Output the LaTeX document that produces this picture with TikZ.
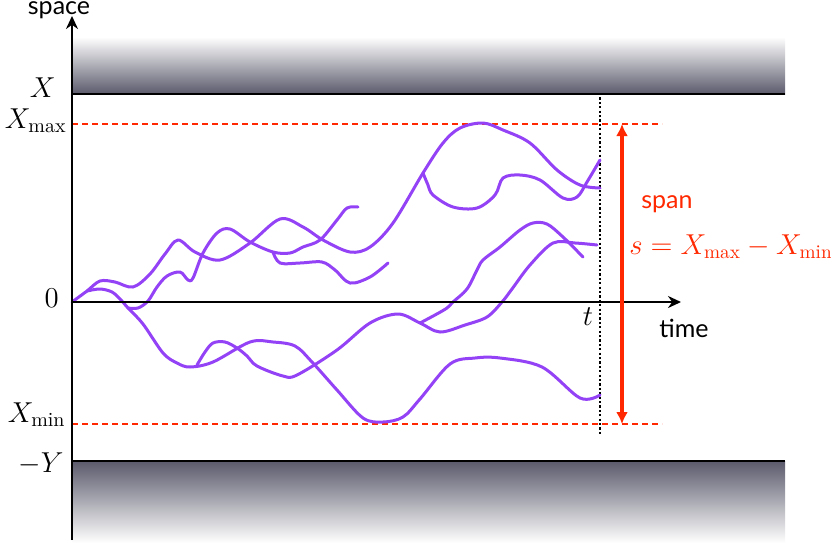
\documentclass[tikz,border=0pt]{standalone}
\usepackage{fontspec}
\newfontfamily\labelfont{Lato}
\usetikzlibrary{arrows.meta}
\definecolor{pathpurple}{RGB}{148,66,245}
\definecolor{spanred}{RGB}{255,40,0}
\definecolor{walldark}{RGB}{90,90,108}
\begin{document}
\begin{tikzpicture}[x=0.5pt,y=-0.5pt,
  walk/.style={pathpurple, line width=1.5pt, line cap=round, line join=round},
  axisline/.style={line width=1.4pt, -{Stealth[length=6.5pt,width=6pt]}},
  wallline/.style={line width=1.4pt},
  limitline/.style={spanred, line width=1.3pt, dash pattern=on 3pt off 2pt},
  timeline/.style={line width=0.9pt, dash pattern=on 1.1pt off 1.1pt},
  spanarrow/.style={spanred, line width=1.6pt, {Latex[length=6pt,width=6pt]}-{Latex[length=6pt,width=6pt]}},
  mathlabel/.style={inner sep=0pt, font=\Large},
  sanslabel/.style={inner sep=0pt, font=\fontsize{12.5}{15}\labelfont},
]
\useasboundingbox (0,0) rectangle (831,543);

% walls
\shade[top color=white, bottom color=walldark] (72,37) rectangle (785,94);
\shade[top color=walldark, bottom color=white] (72,461) rectangle (785,543);
\coordinate (wallTopL) at (72,94);
\coordinate (wallTopR) at (785,94);
\coordinate (wallBotL) at (72,461);
\coordinate (wallBotR) at (785,461);
\draw[wallline] (wallTopL) -- (wallTopR);
\draw[wallline] (wallBotL) -- (wallBotR);

% limits
\coordinate (maxL) at (72,124);
\coordinate (maxR) at (662,124);
\coordinate (minL) at (72,424);
\coordinate (minR) at (662,424);
\draw[limitline] (maxL) -- (maxR);
\draw[limitline] (minL) -- (minR);

% time t
\coordinate (tTop) at (600,93);
\coordinate (tBot) at (600,435);
\draw[timeline] (tTop) -- (tBot);

% walks
\draw[walk] plot[smooth, tension=0.55] coordinates {(72,302) (87,291) (100,281) (115,282) (133,287) (150,274) (165,254) (178,240) (195,252) (220,260) (250,243) (280,219) (303,227) (323,240) (350,252) (370,247) (393,223) (423,173) (443,143) (460,128) (483,123) (503,130) (530,143) (557,170) (580,185) (600,188)};
\draw[walk] plot[smooth, tension=0.55] coordinates {(87,291) (100,289) (112,292) (121,300) (128,308) (143,324) (163,353) (177,363) (190,367) (213,362) (250,342) (273,342) (295,346) (312,362) (337,390) (363,418) (383,422) (403,417) (420,399) (450,364) (475,358) (500,358) (542,367) (580,398) (600,395)};
\draw[walk] plot[smooth, tension=0.55] coordinates {(128,308) (138,308) (148,301) (157,287) (167,276) (180,272) (188,280) (193,278) (203,253) (217,233) (230,229) (250,242) (273,252) (290,253) (303,247) (320,240) (337,220) (347,208) (358,207)};
\draw[walk] plot[smooth, tension=0.55] coordinates {(273,252) (280,263) (300,263) (322,262) (335,270) (350,283) (370,277) (388,263)};
\draw[walk] plot[smooth, tension=0.55] coordinates {(197,365) (205,352) (213,343) (225,342) (237,348) (247,356) (257,366) (283,376) (297,375) (337,350) (370,323) (398,314) (420,323) (440,332) (465,325) (487,317) (502,302) (512,289) (530,265) (553,243) (575,243) (597,245)};
\draw[walk] plot[smooth, tension=0.55] coordinates {(420,323) (435,315) (447,308) (453,302) (467,289) (477,270) (483,260) (500,247) (520,230) (533,223) (547,224) (563,237) (583,257)};
\draw[walk] plot[smooth, tension=0.55] coordinates {(423,173) (428,185) (433,195) (453,207) (477,208) (495,195) (503,178) (520,175) (540,180) (563,198) (577,197) (587,182) (600,160)};

% axes
\coordinate (origin) at (72,302);
\coordinate (timeEnd) at (681,302);
\coordinate (spaceBot) at (72,540);
\coordinate (spaceEnd) at (72,16);
\draw[axisline] (origin) -- (timeEnd);
\draw[axisline] (spaceBot) -- (spaceEnd);

% span arrow
\coordinate (spanTop) at (622,124);
\coordinate (spanBot) at (622,424);
\draw[spanarrow] (spanBot) -- (spanTop);

% labels
\node[sanslabel, anchor=base] (spaceLbl) at (59,14) {space};
\node[sanslabel, anchor=base] (timeLbl) at (684,337) {time};
\node[sanslabel, anchor=base, text=spanred] (spanLbl) at (667,208) {span};
\node[inner sep=0pt, font=\fontsize{13.8}{16}\selectfont, anchor=base west, text=spanred] (spanEq) at (629,254) {$s=X_{\max}-X_{\min}$};
\node[mathlabel, anchor=base] (tLbl) at (588,325) {$t$};
\node[mathlabel, anchor=base east] (XLbl) at (56,97) {$X$};
\node[mathlabel, anchor=base east] (XmaxLbl) at (67,128) {$X_{\max}$};
\node[mathlabel, anchor=base east] (zeroLbl) at (59,307) {$0$};
\node[mathlabel, anchor=base east] (XminLbl) at (66,422) {$X_{\min}$};
\node[mathlabel, anchor=base east] (YLbl) at (64,472) {$-Y$};
\end{tikzpicture}
\end{document}
